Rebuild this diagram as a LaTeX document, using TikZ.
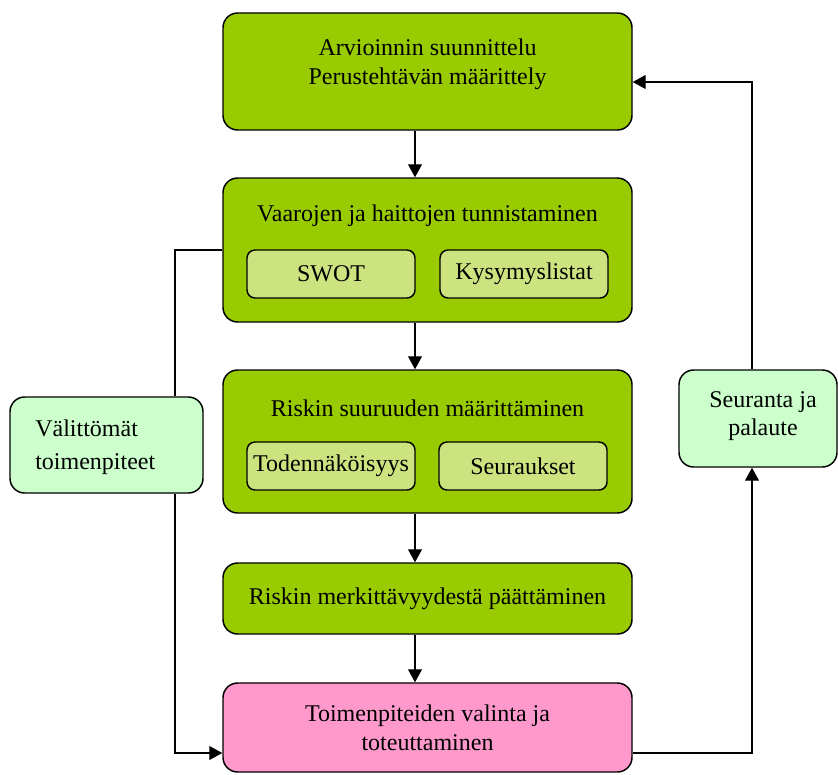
\documentclass[tikz,border=0pt]{standalone}
\usepackage{fontspec}
\setmainfont{Liberation Serif}
\usetikzlibrary{arrows.meta}
\definecolor{stepgreen}{HTML}{99CC00}
\definecolor{subgreen}{HTML}{CCE380}
\definecolor{sidegreen}{HTML}{CCFFCC}
\definecolor{actionpink}{HTML}{FF99CC}
\begin{document}
\begin{tikzpicture}[x=0.75pt,y=-0.75pt,
  every node/.style={font=\fontsize{18}{21.5}\selectfont, inner sep=0pt},
  boxwh/.style 2 args={minimum width=#1*0.75pt, minimum height=#2*0.75pt},
  mainbox/.style={draw, line width=1.1pt, rounded corners=11pt, fill=stepgreen},
  subbox/.style={draw, line width=1.1pt, rounded corners=6pt, fill=subgreen},
  sidebox/.style={draw, line width=1.1pt, rounded corners=11pt, fill=sidegreen},
  pinkbox/.style={draw, line width=1.1pt, rounded corners=11pt, fill=actionpink},
  txt/.style={align=center},
  conn/.style={draw, line width=0.9pt},
  arr/.style={conn, -{Triangle[length=9.75pt,width=10.5pt]}}
]
\useasboundingbox (0,0) rectangle (838,774);

% main chain
\node[mainbox, boxwh={409}{117}] (b1) at (427.5,71.5) {};
\node[txt] (t1) at (427.5,64) {Arvioinnin suunnittelu\\Perustehtävän määrittely};

\node[mainbox, boxwh={409}{144}] (b2) at (427.5,250) {};
\node[txt] (t2) at (427.5,216) {Vaarojen ja haittojen tunnistaminen};
\node[subbox, boxwh={168}{48}] (s1) at (331,274) {SWOT};
\node[subbox, boxwh={168}{48}] (s2) at (524,274) {Kysymyslistat};

\node[mainbox, boxwh={409}{143}] (b3) at (427.5,441.5) {};
\node[txt] (t3) at (427.5,408) {Riskin suuruuden määrittäminen};
\node[subbox, boxwh={168}{48}] (s3) at (331,466) {Todennäköisyys};
\node[subbox, boxwh={168}{48}] (s4) at (523,466) {Seuraukset};

\node[mainbox, boxwh={409}{71}] (b4) at (427.5,598.5) {Riskin merkittävyydestä päättäminen};

\node[pinkbox, boxwh={409}{89}, txt] (b5) at (427.5,727.5) {Toimenpiteiden valinta ja\\toteuttaminen};

% side boxes
\node[sidebox, boxwh={193}{96}] (L) at (106.5,445) {};
\node[align=left, anchor=west, font=\fontsize{18}{25}\selectfont] (tL) at (35,447) {Välittömät\\toimenpiteet};
\node[sidebox, boxwh={158}{97}] (R) at (758,418.5) {};
\node[txt] (tR) at (763,416) {Seuranta ja\\palaute};

% connector routing points
\coordinate (ax) at (415,0);
\coordinate (jl) at (175,250);
\coordinate (jb) at (175,753);
\coordinate (jr) at (752,753);
\coordinate (jt) at (752,82);

\draw[arr] (b1.south -| ax) -- (b2.north -| ax);
\draw[arr] (b2.south -| ax) -- (b3.north -| ax);
\draw[arr] (b3.south -| ax) -- (b4.north -| ax);
\draw[arr] (b4.south -| ax) -- (b5.north -| ax);

\draw[conn] (jl -| b2.west) -- (jl) -- (jl |- L.north);
\draw[arr] (jl |- L.south) -- (jb) -- (jb -| b5.west);

\draw[arr] (jr -| b5.east) -- (jr) -- (jr |- R.south);
\draw[arr] (jt |- R.north) -- (jt) -- (jt -| b1.east);
\end{tikzpicture}
\end{document}
